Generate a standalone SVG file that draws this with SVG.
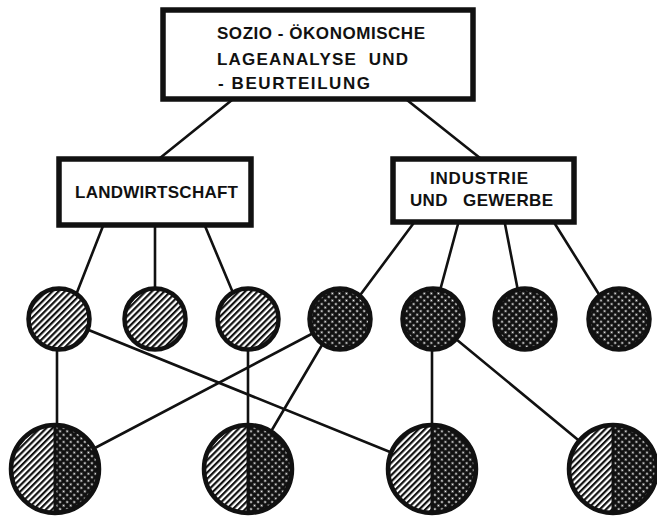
<svg xmlns="http://www.w3.org/2000/svg" width="657" height="518" viewBox="0 0 657 518">
<style>
.box{fill:#fff;stroke:#111;stroke-width:5.5}
.lbl{font-family:"Liberation Sans",Arial,sans-serif;font-weight:bold;font-size:17px;fill:#111;white-space:pre}
.con{stroke:#111;stroke-width:2.6;fill:none;stroke-linecap:round}
.ring{fill:none;stroke:#111;stroke-width:4.5}
.hat{fill:url(#hatch)}
.dot{fill:url(#dots)}
</style>
<defs>
<pattern id="hatch" patternUnits="userSpaceOnUse" width="4.4" height="4.4" patternTransform="rotate(45)">
<rect width="4.4" height="4.4" fill="#fff"/>
<rect width="2.2" height="4.4" fill="#111"/>
</pattern>
<pattern id="dots" patternUnits="userSpaceOnUse" width="5" height="5" patternTransform="rotate(45)">
<rect width="5" height="5" fill="#111"/>
<circle cx="2.5" cy="2.5" r="1.05" fill="#fff"/>
</pattern>
</defs>
<rect width="657" height="518" fill="#fff"/>
<g id="connectors">
<line class="con" x1="232" y1="100" x2="160" y2="158"/>
<line class="con" x1="407" y1="100" x2="480" y2="158"/>
<line class="con" x1="103" y1="226" x2="74" y2="300"/>
<line class="con" x1="155" y1="226" x2="155" y2="300"/>
<line class="con" x1="205" y1="226" x2="236" y2="300"/>
<line class="con" x1="413" y1="224" x2="355" y2="302"/>
<line class="con" x1="458" y1="224" x2="438" y2="298"/>
<line class="con" x1="505" y1="224" x2="519" y2="296"/>
<line class="con" x1="555" y1="224" x2="600" y2="296"/>
<line class="con" x1="57" y1="330" x2="57" y2="440"/>
<line class="con" x1="59" y1="318" x2="432" y2="469"/>
<line class="con" x1="340" y1="319" x2="55" y2="469"/>
<line class="con" x1="322" y1="345" x2="266" y2="440"/>
<line class="con" x1="248" y1="330" x2="248" y2="440"/>
<line class="con" x1="432" y1="330" x2="432" y2="440"/>
<line class="con" x1="445" y1="330" x2="600" y2="458"/>
</g>
<g id="top">
<rect class="box" x="163" y="10" width="310" height="89"/>
<text class="lbl" x="217" y="39" textLength="208" lengthAdjust="spacing">SOZIO - ÖKONOMISCHE</text>
<text class="lbl" x="217" y="65" textLength="191" lengthAdjust="spacing">LAGEANALYSE  UND</text>
<text class="lbl" x="218" y="89" textLength="152" lengthAdjust="spacing">- BEURTEILUNG</text>
</g>
<g id="landwirtschaft">
<rect class="box" x="59" y="159" width="192" height="66"/>
<text class="lbl" x="75" y="198" textLength="163" lengthAdjust="spacing">LANDWIRTSCHAFT</text>
</g>
<g id="industrie">
<rect class="box" x="393" y="159" width="181" height="63"/>
<text class="lbl" x="430" y="184" textLength="98" lengthAdjust="spacing">INDUSTRIE</text>
<text class="lbl" x="410" y="206" textLength="143" lengthAdjust="spacing">UND   GEWERBE</text>
</g>
<g id="m1"><circle class="hat" cx="59" cy="319" r="30.5"/><circle class="ring" cx="59" cy="319" r="30.5"/></g>
<g id="m2"><circle class="hat" cx="155" cy="319" r="30.5"/><circle class="ring" cx="155" cy="319" r="30.5"/></g>
<g id="m3"><circle class="hat" cx="248" cy="319" r="30.5"/><circle class="ring" cx="248" cy="319" r="30.5"/></g>
<g id="m4"><circle class="dot" cx="340" cy="319" r="30.5"/><circle class="ring" cx="340" cy="319" r="30.5"/></g>
<g id="m5"><circle class="dot" cx="433" cy="319" r="30.5"/><circle class="ring" cx="433" cy="319" r="30.5"/></g>
<g id="m6"><circle class="dot" cx="525" cy="319" r="30.5"/><circle class="ring" cx="525" cy="319" r="30.5"/></g>
<g id="m7"><circle class="dot" cx="619" cy="319" r="30.5"/><circle class="ring" cx="619" cy="319" r="30.5"/></g>
<g id="b1">
<path class="hat" d="M55,425 A44,44 0 0 0 55,513 Z"/><path class="dot" d="M55,425 A44,44 0 0 1 55,513 Z"/>
<line x1="55" y1="425" x2="55" y2="513" stroke="#111" stroke-width="3"/><circle class="ring" cx="55" cy="469" r="44"/>
</g>
<g id="b2">
<path class="hat" d="M248,425 A44,44 0 0 0 248,513 Z"/><path class="dot" d="M248,425 A44,44 0 0 1 248,513 Z"/>
<line x1="248" y1="425" x2="248" y2="513" stroke="#111" stroke-width="3"/><circle class="ring" cx="248" cy="469" r="44"/>
</g>
<g id="b3">
<path class="hat" d="M432,425 A44,44 0 0 0 432,513 Z"/><path class="dot" d="M432,425 A44,44 0 0 1 432,513 Z"/>
<line x1="432" y1="425" x2="432" y2="513" stroke="#111" stroke-width="3"/><circle class="ring" cx="432" cy="469" r="44"/>
</g>
<g id="b4">
<path class="hat" d="M613,425 A44,44 0 0 0 613,513 Z"/><path class="dot" d="M613,425 A44,44 0 0 1 613,513 Z"/>
<line x1="613" y1="425" x2="613" y2="513" stroke="#111" stroke-width="3"/><circle class="ring" cx="613" cy="469" r="44"/>
</g>
</svg>
